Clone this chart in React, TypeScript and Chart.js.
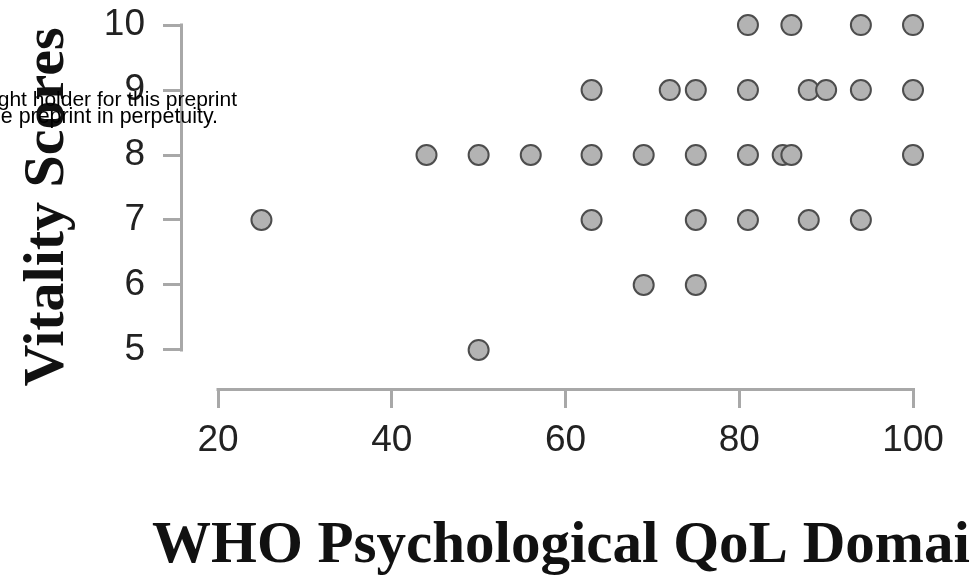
import React, { useEffect, useRef } from "react";
import { Chart, registerables } from "chart.js";

Chart.register(...registerables);

// ---- Data ----
const xTickValues = [20, 40, 60, 80, 100];
const yTickValues = [5, 6, 7, 8, 9, 10];

const qolScores = [
  81, 86, 94, 100,
  63, 72, 75, 81, 88, 90, 94, 100,
  44, 50, 56, 63, 69, 75, 81, 85, 86, 100,
  25, 63, 75, 81, 88, 94,
  69, 75,
  50,
];
const vitalityScores = [
  10, 10, 10, 10,
  9, 9, 9, 9, 9, 9, 9, 9,
  8, 8, 8, 8, 8, 8, 8, 8, 8, 8,
  7, 7, 7, 7, 7, 7,
  6, 6,
  5,
];

const xTitle = "WHO Psychological QoL Domain";
const yTitle = "Vitality Scores";
const overlayLines = ["ght holder for this preprint", "e preprint in perpetuity."];

const AXIS_GRAY = "#a8a8a8";

const decorPlugin = {
  id: "decor",
  afterDraw(chart: any) {
    const { ctx, chartArea, scales } = chart;
    const xs = scales.x;
    const ys = scales.y;
    ctx.save();
    // partial axis lines (R style)
    ctx.strokeStyle = AXIS_GRAY;
    ctx.lineWidth = 3;
    ctx.lineCap = "butt";
    ctx.beginPath();
    ctx.moveTo(xs.getPixelForValue(xTickValues[0]) - 1.5, chartArea.bottom + 1.5);
    ctx.lineTo(xs.getPixelForValue(xTickValues[xTickValues.length - 1]) + 1.5, chartArea.bottom + 1.5);
    ctx.moveTo(chartArea.left - 1.5, ys.getPixelForValue(yTickValues[0]) + 1.5);
    ctx.lineTo(chartArea.left - 1.5, ys.getPixelForValue(yTickValues[yTickValues.length - 1]) - 1.5);
    ctx.stroke();

    // axis titles
    ctx.fillStyle = "#111";
    ctx.font = 'bold 59px "Liberation Serif", "Times New Roman", serif';
    ctx.textBaseline = "alphabetic";
    ctx.textAlign = "left";
    ctx.fillText(xTitle, 152, chartArea.bottom + 174);

    ctx.save();
    ctx.translate(63, ys.getPixelForValue(7.2));
    ctx.rotate(-Math.PI / 2);
    ctx.textAlign = "center";
    ctx.font = 'bold 58px "Liberation Serif", "Times New Roman", serif';
    ctx.fillText(yTitle, 0, 0);
    ctx.restore();

    // overlay text
    ctx.fillStyle = "#000";
    ctx.font = '21px "Liberation Sans", Arial, sans-serif';
    ctx.textAlign = "right";
    ctx.fillText(overlayLines[0], 237, 106);
    ctx.font = '21.4px "Liberation Sans", Arial, sans-serif';
    ctx.fillText(overlayLines[1], 218, 123);
    ctx.restore();
  },
};

export default function App() {
  const canvasRef = useRef<HTMLCanvasElement | null>(null);

  useEffect(() => {
    if (!canvasRef.current) return;
    const points = qolScores.map((x, i) => ({ x, y: vitalityScores[i] }));
    const tickFont = { family: '"Liberation Sans", Arial, sans-serif', size: 37 };
    const chart = new Chart(canvasRef.current, {
      type: "scatter",
      data: {
        datasets: [
          {
            data: points,
            backgroundColor: "#b3b3b3",
            borderColor: "#4d4d4d",
            borderWidth: 2,
            pointRadius: 10,
            pointHoverRadius: 10,
          },
        ],
      },
      options: {
        animation: false,
        responsive: false,
        maintainAspectRatio: false,
        layout: { padding: 0, autoPadding: false },
        plugins: {
          legend: { display: false },
          tooltip: { enabled: false },
          title: { display: false },
        },
        scales: {
          x: {
            type: "linear",
            min: 15.97,
            max: 106.56,
            afterFit: (scale: any) => {
              scale.height = 189;
              scale.paddingLeft = 0;
              scale.paddingRight = 0;
            },
            afterBuildTicks: (scale: any) => {
              scale.ticks = xTickValues.map((v) => ({ value: v }));
            },
            grid: {
              drawOnChartArea: false,
              drawTicks: true,
              tickLength: 20,
              color: AXIS_GRAY,
              lineWidth: 3,
            },
            border: { display: false },
            ticks: {
              font: tickFont,
              color: "#222",
              padding: 11,
              maxRotation: 0,
              autoSkip: false,
            },
          },
          y: {
            type: "linear",
            min: 4.415,
            max: 10.385,
            afterFit: (scale: any) => {
              scale.width = 183;
              scale.paddingTop = 0;
              scale.paddingBottom = 0;
            },
            afterBuildTicks: (scale: any) => {
              scale.ticks = yTickValues.map((v) => ({ value: v }));
            },
            grid: {
              drawOnChartArea: false,
              drawTicks: true,
              tickLength: 20,
              color: AXIS_GRAY,
              lineWidth: 3,
            },
            border: { display: false },
            ticks: {
              font: tickFont,
              color: "#222",
              padding: 18,
              autoSkip: false,
            },
          },
        },
      },
      plugins: [decorPlugin],
    });
    return () => chart.destroy();
  }, []);

  return (
    <div style={{ position: "absolute", left: 0, top: 0, width: 970, height: 577, background: "#fff" }}>
      <canvas ref={canvasRef} width={970} height={577} style={{ display: "block", width: 970, height: 577 }} />
    </div>
  );
}
